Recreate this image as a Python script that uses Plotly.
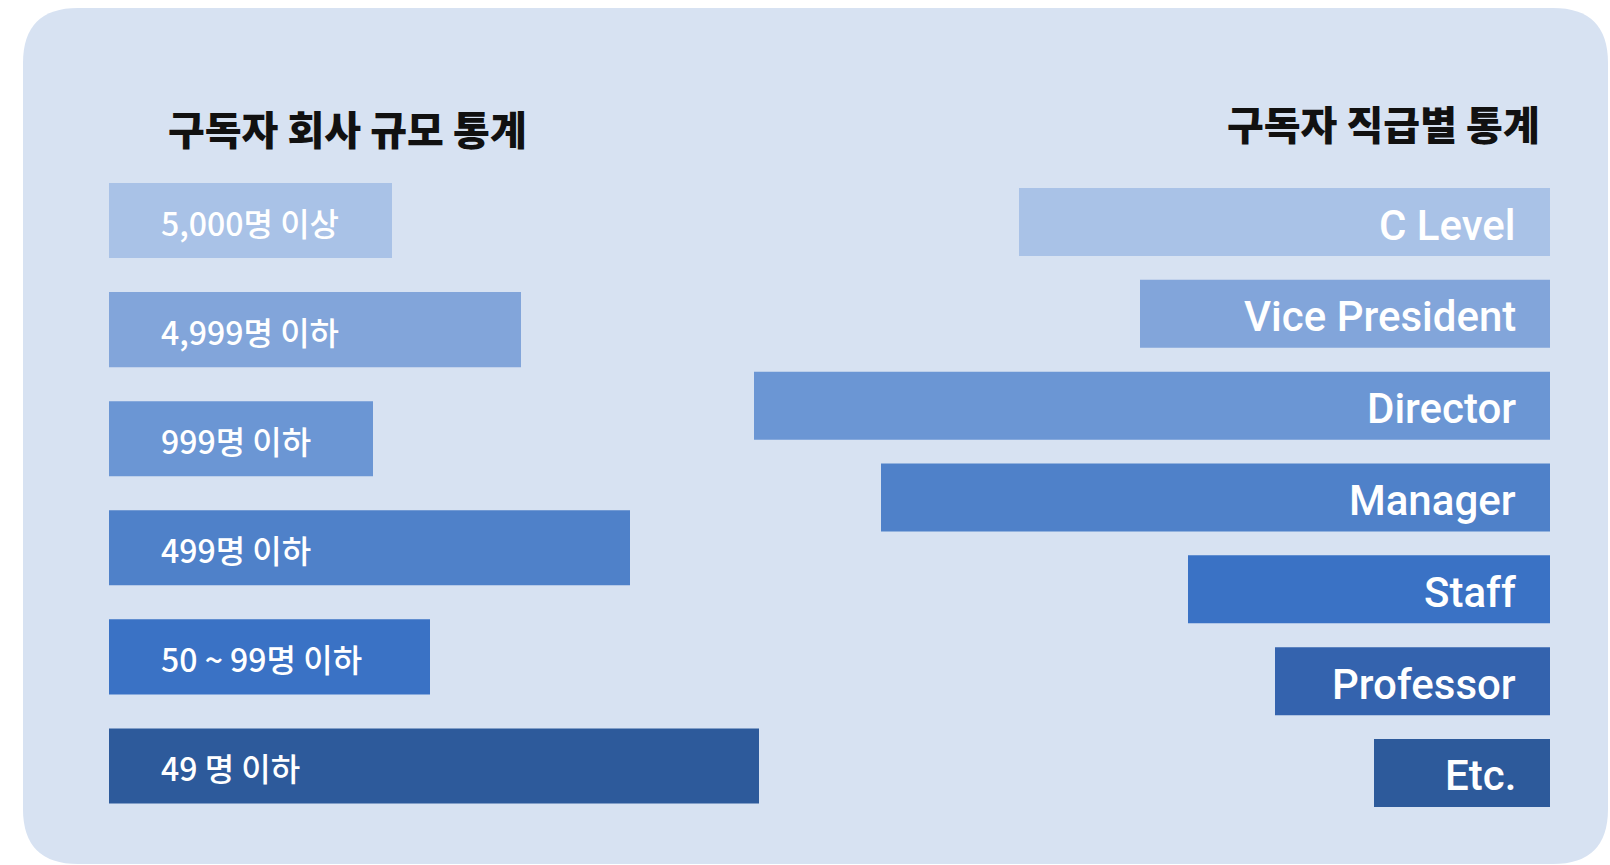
import plotly.graph_objects as go

W, H = 1610, 865

# ---- data ----
size_labels = ["5,000명 이상", "4,999명 이하", "999명 이하", "499명 이하", "50 ~ 99명 이하", "49 명 이하"]
size_values = [28.3, 41.2, 26.4, 52.1, 32.1, 65.0]
size_colors = ["#A9C2E7", "#82A5DA", "#6B96D4", "#4F81C9", "#3A72C5", "#2D5A9B"]

rank_labels = ["C Level", "Vice President", "Director", "Manager", "Staff", "Professor", "Etc."]
rank_values = [53.1, 41.0, 79.6, 66.9, 36.2, 27.5, 17.6]
rank_colors = ["#A9C2E7", "#82A5DA", "#6B96D4", "#4F81C9", "#3A72C5", "#3463AE", "#2D5A9B"]

title_left = "구독자 회사 규모 통계"
title_right = "구독자 직급별 통계"


def px_x(x):
    return x / W


def px_y(y):
    return 1 - y / H


fig = go.Figure()

fig.add_trace(go.Bar(
    x=size_values, y=size_labels, orientation="h",
    marker=dict(color=size_colors, line=dict(width=0)),
    width=0.688, xaxis="x", yaxis="y", hoverinfo="skip", showlegend=False,
))
fig.add_trace(go.Bar(
    x=rank_values, y=rank_labels, orientation="h",
    marker=dict(color=rank_colors, line=dict(width=0)),
    width=0.74, xaxis="x2", yaxis="y2", hoverinfo="skip", showlegend=False,
))

annotations = []
kr_font = "Noto Sans CJK KR"
for lab in size_labels:
    annotations.append(dict(
        x=0, y=lab, xref="x", yref="y", text=lab, showarrow=False,
        xanchor="left", yanchor="middle", xshift=50, yshift=-1,
        font=dict(family=kr_font, size=32, color="white", weight=500),
    ))
for lab in rank_labels:
    annotations.append(dict(
        x=0, y=lab, xref="x2", yref="y2", text=lab, showarrow=False,
        xanchor="right", yanchor="middle", xshift=-32, yshift=-3,
        font=dict(family="Roboto", size=42, color="white", weight=500),
    ))
annotations.append(dict(
    x=px_x(166), y=px_y(128), xref="paper", yref="paper", text=title_left,
    showarrow=False, xanchor="left", yanchor="middle",
    font=dict(family=kr_font, size=40, color="#111111", weight=900),
))
annotations.append(dict(
    x=px_x(1542), y=px_y(123), xref="paper", yref="paper", text=title_right,
    showarrow=False, xanchor="right", yanchor="middle",
    font=dict(family=kr_font, size=40, color="#111111", weight=900),
))

# rounded background panel
x0, x1, y0, y1, r = 23, 1608, 8, 864, 55
path = (
    f"M {px_x(x0 + r)},{px_y(y0)} L {px_x(x1 - r)},{px_y(y0)} "
    f"Q {px_x(x1)},{px_y(y0)} {px_x(x1)},{px_y(y0 + r)} "
    f"L {px_x(x1)},{px_y(y1 - r)} Q {px_x(x1)},{px_y(y1)} {px_x(x1 - r)},{px_y(y1)} "
    f"L {px_x(x0 + r)},{px_y(y1)} Q {px_x(x0)},{px_y(y1)} {px_x(x0)},{px_y(y1 - r)} "
    f"L {px_x(x0)},{px_y(y0 + r)} Q {px_x(x0)},{px_y(y0)} {px_x(x0 + r)},{px_y(y0)} Z"
)

axis_off = dict(showgrid=False, zeroline=False, showticklabels=False, showline=False, ticks="")

fig.update_layout(
    width=W, height=H,
    margin=dict(l=0, r=0, t=0, b=0),
    paper_bgcolor="white",
    plot_bgcolor="rgba(0,0,0,0)",
    shapes=[dict(type="path", path=path, xref="paper", yref="paper",
                 fillcolor="#D7E2F2", line=dict(width=0), layer="below")],
    annotations=annotations,
    xaxis=dict(domain=[px_x(109), px_x(759)], range=[0, 65], anchor="y", **axis_off),
    yaxis=dict(domain=[px_y(820.5), px_y(166)], autorange="reversed", anchor="x",
               type="category", **axis_off),
    xaxis2=dict(domain=[px_x(750), px_x(1550)], range=[80, 0], anchor="y2", **axis_off),
    yaxis2=dict(domain=[px_y(818.9), px_y(176.1)], autorange="reversed", anchor="x2",
                type="category", **axis_off),
)

fig.write_html("out.html",
               config={"displayModeBar": False},
               post_script="document.body.style.margin='0';document.body.style.overflow='hidden';")
